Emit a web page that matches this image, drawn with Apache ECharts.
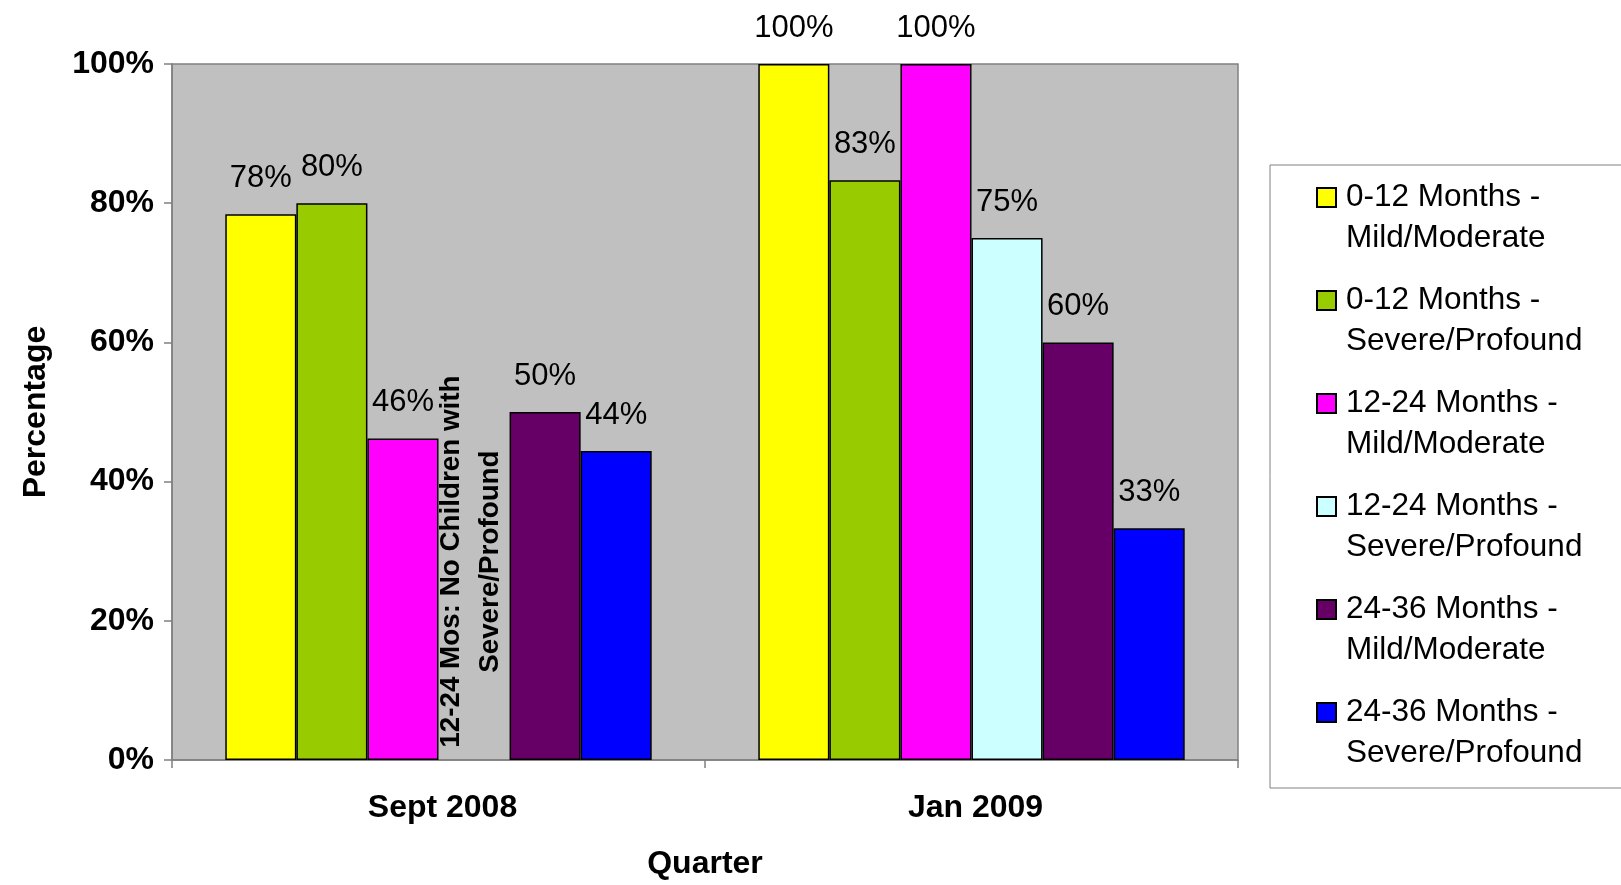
<!DOCTYPE html>
<html>
<head>
<meta charset="utf-8">
<script src="https://cdn.jsdelivr.net/npm/echarts@6/dist/echarts.min.js"></script>
<style>
html,body{margin:0;padding:0;background:#fff;}
#chart{width:1621px;height:885px;}
</style>
</head>
<body>
<div id="chart"></div>
<script>
const categories = ['Sept 2008', 'Jan 2009'];
const seriesNames = [
  '0-12 Months -\nMild/Moderate',
  '0-12 Months -\nSevere/Profound',
  '12-24 Months -\nMild/Moderate',
  '12-24 Months -\nSevere/Profound',
  '24-36 Months -\nMild/Moderate',
  '24-36 Months -\nSevere/Profound'
];
const months0to12Mild = [78.4, 100];
const months0to12Severe = [80, 83.3];
const months12to24Mild = [46.2, 100];
const months12to24Severe = [null, 75];
const months24to36Mild = [50, 60];
const months24to36Severe = [44.4, 33.3];
const yTicks = [0, 20, 40, 60, 80, 100];
const colors = ['#FFFF00', '#99CC00', '#FF00FF', '#CCFFFF', '#660066', '#0000FF'];
const annotationText = '12-24 Mos: No Children with\nSevere/Profound';
const annotationCategory = 'Sept 2008';
const annotationSeriesIndex = 3;
const annotationValue = 28.5;

const allSeries = [months0to12Mild, months0to12Severe, months12to24Mild, months12to24Severe, months24to36Mild, months24to36Severe];
const FONT = '"Liberation Sans", Arial, sans-serif';

const chart = echarts.init(document.getElementById('chart'), null, {renderer: 'canvas'});

// legend icon: square aligned with first text line (path bbox spans the full item height)
const legendIcon = 'path://M0,11L19,11L19,30L0,30Z M0,0 M19,82';

const option = {
  animation: false,
  backgroundColor: '#ffffff',
  color: colors,
  textStyle: {fontFamily: FONT},
  grid: {
    left: 172, right: 383, top: 64, bottom: 124,
    show: true, backgroundColor: '#C0C0C0', borderColor: '#808080', borderWidth: 1.5
  },
  legend: {
    orient: 'vertical',
    left: 1270, top: 165,
    padding: [11, 40, 13, 46],
    backgroundColor: '#ffffff',
    borderColor: '#808080', borderWidth: 1,
    itemWidth: 19, itemHeight: 82, itemGap: 19,
    icon: legendIcon,
    textStyle: {fontFamily: FONT, fontSize: 31.5, color: '#000', lineHeight: 41, padding: [0, 0, 0, 5]},
    data: seriesNames
  },
  xAxis: {
    type: 'category',
    data: categories,
    name: 'Quarter',
    nameLocation: 'middle',
    nameGap: 88,
    nameTextStyle: {fontFamily: FONT, fontSize: 32, fontWeight: 'bold', color: '#000'},
    axisLine: {lineStyle: {color: '#808080', width: 1.5}},
    axisTick: {show: true, length: 8, lineStyle: {color: '#808080', width: 1.5}},
    axisLabel: {fontFamily: FONT, fontSize: 32, fontWeight: 'bold', color: '#000', margin: 32, padding: [0, 0, 0, 8]},
    splitLine: {show: false}
  },
  yAxis: {
    type: 'value',
    min: yTicks[0], max: yTicks[yTicks.length - 1], interval: yTicks[1] - yTicks[0],
    name: 'Percentage',
    nameLocation: 'middle',
    nameGap: 120,
    nameTextStyle: {fontFamily: FONT, fontSize: 32, fontWeight: 'bold', color: '#000'},
    axisLine: {show: true, lineStyle: {color: '#808080', width: 1.5}},
    axisTick: {show: true, length: 8, lineStyle: {color: '#808080', width: 1.5}},
    axisLabel: {fontFamily: FONT, fontSize: 32, fontWeight: 'bold', color: '#000', margin: 18, formatter: '{value}%'},
    splitLine: {show: false}
  },
  series: allSeries.map(function (vals, i) {
    return {
      name: seriesNames[i],
      type: 'bar',
      data: vals,
      barGap: '0%',
      barCategoryGap: '20%',
      itemStyle: {color: colors[i], borderColor: '#000', borderWidth: 1.5},
      label: {
        show: true, position: 'top', distance: 20,
        fontFamily: FONT, fontSize: 31, color: '#000',
        formatter: function (p) { return Math.round(p.value) + '%'; }
      }
    };
  })
};
chart.setOption(option);

// Annotation placed in the empty bar slot, via the chart's own scales
const c0 = chart.convertToPixel({xAxisIndex: 0}, categories[0]);
const c1 = chart.convertToPixel({xAxisIndex: 0}, categories[1]);
const band = Math.abs(c1 - c0);
const barW = band * 0.8 / allSeries.length;
const catX = chart.convertToPixel({xAxisIndex: 0}, annotationCategory);
const ax = catX + (annotationSeriesIndex - (allSeries.length - 1) / 2) * barW;
const ay = chart.convertToPixel({yAxisIndex: 0}, annotationValue);
chart.setOption({
  graphic: [{
    type: 'text',
    x: ax - 3, y: ay,
    rotation: Math.PI / 2,
    style: {
      text: annotationText,
      fontFamily: FONT, fontSize: 27.8, fontWeight: 'bold',
      fill: '#000', align: 'center', verticalAlign: 'middle', lineHeight: 39
    },
    z: 100
  }]
});
</script>
</body>
</html>
